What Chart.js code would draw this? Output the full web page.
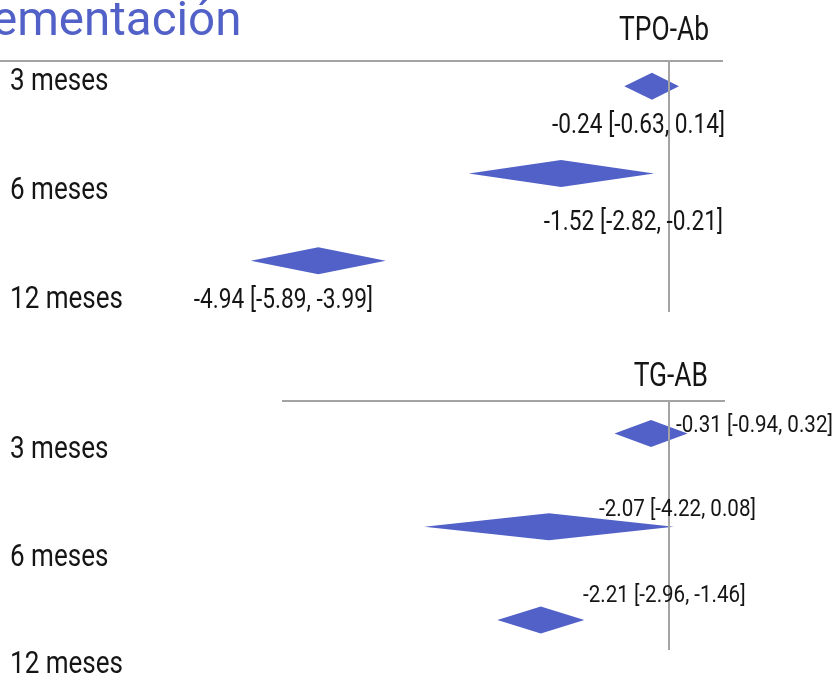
<!DOCTYPE html>
<html>
<head>
<meta charset="utf-8">
<script src="https://cdn.jsdelivr.net/npm/chart.js@4/dist/chart.umd.min.js"></script>
<style>
  html, body { margin: 0; padding: 0; background: #ffffff; }
  #page { position: relative; width: 833px; height: 678px; overflow: hidden; }
  .panel { position: absolute; left: 0; }
  #panelTop { top: 0; }
  #panelBottom { top: 330px; }
  canvas { display: block; }
</style>
</head>
<body>
<div id="page">
  <div class="panel" id="panelTop"><canvas id="tpoChart" width="833" height="330"></canvas></div>
  <div class="panel" id="panelBottom"><canvas id="tgChart" width="833" height="348"></canvas></div>
</div>
<script>
// Follow-up periods (rows of each forest plot)
const periods = ['3 meses', '6 meses', '12 meses'];

// TPO-Ab: pooled mean difference with 95% CI
const tpoEstimate = [-0.24, -1.52, -4.94];
const tpoLower    = [-0.63, -2.82, -5.89];
const tpoUpper    = [0.14, -0.21, -3.99];

// TG-AB: pooled mean difference with 95% CI
const tgEstimate = [-0.31, -2.07, -2.21];
const tgLower    = [-0.94, -4.22, -2.96];
const tgUpper    = [0.32, 0.08, -1.46];

const BLUE = 'rgb(82, 97, 200)';
const GREY = '#a3a3a3';
const INK = '#151515';

const fmt = v => v.toFixed(2);
const ciLabel = (e, lo, hi) => `${fmt(e)} [${fmt(lo)}, ${fmt(hi)}]`;

// Roboto squeezed horizontally for a condensed look
function condensedText(ctx, text, x, y, size, align, squeeze) {
  ctx.save();
  ctx.translate(x, y);
  ctx.scale(squeeze, 1);
  ctx.font = `${size}px Roboto`;
  ctx.textAlign = align;
  ctx.textBaseline = 'alphabetic';
  ctx.fillText(text, 0, 0);
  ctx.restore();
}

// Draws the diamonds from the (invisible) floating bars, plus rules, zero line and text
const forestPlugin = {
  id: 'forestDecor',
  afterDatasetsDraw(chart, args, opts) {
    const ctx = chart.ctx;
    const xs = chart.scales.x;
    const ds = chart.data.datasets[0];
    const meta = chart.getDatasetMeta(0);
    ctx.save();

    // diamonds: left/right tips = CI bounds, widest point = estimate
    ctx.fillStyle = BLUE;
    meta.data.forEach((bar, i) => {
      const p = bar.getProps(['x', 'y', 'base', 'height'], true);
      const left = Math.min(p.x, p.base);
      const right = Math.max(p.x, p.base);
      const mid = xs.getPixelForValue(ds.estimates[i]);
      const h = p.height / 2;
      ctx.beginPath();
      ctx.moveTo(left, p.y);
      ctx.lineTo(mid, p.y - h);
      ctx.lineTo(right, p.y);
      ctx.lineTo(mid, p.y + h);
      ctx.closePath();
      ctx.fill();
    });

    // header rule and line of no effect
    const zero = Math.round(xs.getPixelForValue(0));
    ctx.strokeStyle = GREY;
    ctx.lineWidth = 2;
    ctx.beginPath();
    ctx.moveTo(opts.rule.from, opts.rule.y);
    ctx.lineTo(opts.rule.to, opts.rule.y);
    ctx.moveTo(zero, opts.rule.y);
    ctx.lineTo(zero, opts.zeroEnd);
    ctx.stroke();

    // title fragment
    if (opts.title) {
      ctx.fillStyle = BLUE;
      ctx.font = `${opts.title.size}px Roboto`;
      ctx.textAlign = 'left';
      ctx.textBaseline = 'alphabetic';
      ctx.fillText(opts.title.text, opts.title.x, opts.title.y);
    }

    // panel header
    ctx.fillStyle = INK;
    const hd = opts.header;
    condensedText(ctx, hd.text, hd.x, hd.y, hd.size, 'right', hd.squeeze);

    // row labels
    const rw = opts.rows;
    chart.data.labels.forEach((lab, i) => {
      condensedText(ctx, lab, rw.x, rw.y0 + i * rw.step, rw.size, 'left', rw.squeeze);
    });

    // estimate [CI] labels
    const vl = opts.values;
    ds.data.forEach((ci, i) => {
      const pl = vl.places[i];
      condensedText(ctx, ciLabel(ds.estimates[i], ci[0], ci[1]), pl.x, pl.y, vl.size, pl.align, vl.squeeze);
    });

    ctx.restore();
  }
};

function forestChart(canvasId, est, lower, upper, xMin, xMax, padding, decor) {
  return new Chart(document.getElementById(canvasId), {
    type: 'bar',
    data: {
      labels: periods,
      datasets: [{
        data: lower.map((lo, i) => [lo, upper[i]]),
        estimates: est,
        backgroundColor: 'rgba(0,0,0,0)',
        borderWidth: 0,
        barThickness: 27
      }]
    },
    options: {
      indexAxis: 'y',
      responsive: false,
      animation: false,
      events: [],
      layout: { padding },
      plugins: {
        legend: { display: false },
        tooltip: { enabled: false },
        forestDecor: decor
      },
      scales: {
        x: { type: 'linear', min: xMin, max: xMax, display: false },
        y: { type: 'category', display: false }
      }
    },
    plugins: [forestPlugin]
  });
}

forestChart('tpoChart', tpoEstimate, tpoLower, tpoUpper, -9, 2,
  { left: 30, right: 22, top: 42.7, bottom: 25.7 },
  {
    title: { text: 'ementación', x: -8, y: 35, size: 47.5 },
    header: { text: 'TPO-Ab', x: 709, y: 40, size: 33, squeeze: 0.8 },
    rule: { y: 61, from: 0, to: 723 },
    zeroEnd: 312,
    rows: { x: 10, y0: 90, step: 109, size: 31, squeeze: 0.84 },
    values: {
      size: 27, squeeze: 0.84,
      places: [
        { x: 725, y: 133, align: 'right' },
        { x: 723, y: 230, align: 'right' },
        { x: 373, y: 308, align: 'right' }
      ]
    }
  });

forestChart('tgChart', tgEstimate, tgLower, tgUpper, -11, 2,
  { left: 31, right: 48, top: 56.9, bottom: 11.4 },
  {
    header: { text: 'TG-AB', x: 708, y: 56, size: 33, squeeze: 0.8 },
    rule: { y: 71, from: 282, to: 725 },
    zeroEnd: 320,
    rows: { x: 10, y0: 128, step: 107.5, size: 31, squeeze: 0.84 },
    values: {
      size: 24.5, squeeze: 0.84,
      places: [
        { x: 676, y: 102, align: 'left' },
        { x: 599, y: 186, align: 'left' },
        { x: 583, y: 272, align: 'left' }
      ]
    }
  });
</script>
</body>
</html>
